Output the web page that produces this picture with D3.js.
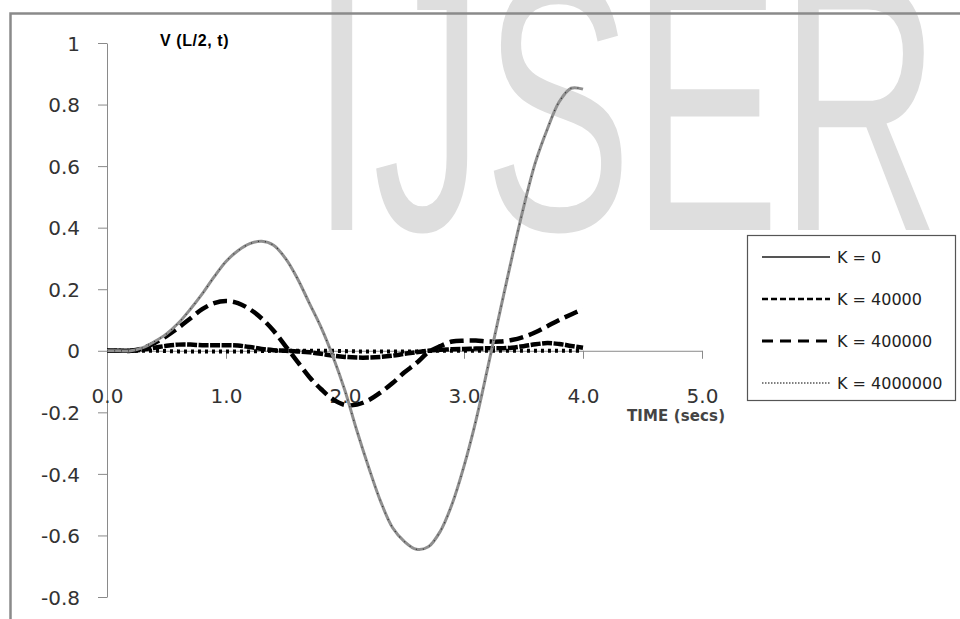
<!DOCTYPE html>
<html>
<head>
<meta charset="utf-8">
<script src="https://cdn.jsdelivr.net/npm/d3@7"></script>
<style>
  body { margin: 0; background: #fff; }
  svg { display: block; }
</style>
</head>
<body>
<div class="chart"></div>
<script>
// time (secs), one point each 0.1 s
const times = d3.range(0, 41).map(i => +(i / 10).toFixed(1))

// V(L/2, t)
const k0 = [0, 0, 0, 0.01, 0.03, 0.055, 0.09, 0.135, 0.185, 0.24,
  0.29, 0.325, 0.348, 0.356, 0.343, 0.30, 0.235, 0.155, 0.075, -0.02,
  -0.13, -0.26, -0.38, -0.49, -0.575, -0.62, -0.645, -0.637, -0.587, -0.498,
  -0.375, -0.227, -0.054, 0.123, 0.298, 0.465, 0.612, 0.72, 0.809, 0.853, 0.85]
const k40000 = [0, 0, 0, 0.004, 0.01, 0.016, 0.02, 0.02, 0.018, 0.018,
  0.018, 0.017, 0.012, 0.006, 0.002, 0, -0.002, -0.005, -0.01, -0.016,
  -0.02, -0.022, -0.022, -0.02, -0.016, -0.01, -0.005, 0, 0.003, 0.005,
  0.006, 0.007, 0.008, 0.008, 0.01, 0.015, 0.021, 0.025, 0.022, 0.016, 0.01]
const k400000 = [0, 0, 0, 0.008, 0.025, 0.048, 0.075, 0.105, 0.135, 0.155,
  0.162, 0.155, 0.135, 0.105, 0.065, 0.015, -0.035, -0.085, -0.125, -0.158,
  -0.176, -0.175, -0.16, -0.135, -0.105, -0.07, -0.04, -0.005, 0.015, 0.03,
  0.033, 0.033, 0.03, 0.03, 0.035, 0.045, 0.06, 0.08, 0.1, 0.118, 0.135]
const k4000000 = [0, 0, 0, 0, 0, -0.001, -0.002, -0.002, -0.002, -0.002,
  -0.002, -0.002, -0.002, -0.001, 0, 0, 0, 0, 0, 0,
  -0.001, -0.002, -0.002, -0.002, -0.002, -0.002, -0.002, -0.001, 0, 0,
  0, 0, 0, 0, 0, 0, 0, 0, 0, 0, 0]

const seriesNames = ["K = 0", "K = 40000", "K = 400000", "K = 4000000"]
const xTicks = [0, 1, 2, 3, 4, 5]
const xTickLabels = ["0.0", "1.0", "2.0", "3.0", "4.0", "5.0"]
const yTicks = [-0.8, -0.6, -0.4, -0.2, 0, 0.2, 0.4, 0.6, 0.8, 1]
const yTickLabels = ["-0.8", "-0.6", "-0.4", "-0.2", "0", "0.2", "0.4", "0.6", "0.8", "1"]

const width = 960, height = 619

const svg = d3.select('.chart').append('svg')
  .attr('width', width)
  .attr('height', height)

// watermark behind everything
svg.append('text')
  .attr('transform', 'translate(311, 230) scale(1.0, 1.62)')
  .attr('font-family', 'Liberation Sans, Arial, sans-serif')
  .attr('font-size', 222)
  .attr('fill', '#dedede')
  .text('IJSER')

const x = d3.scaleLinear().domain([0, 5]).range([107, 702])
const y = d3.scaleLinear().domain([-0.8, 1]).range([597, 43])

// y axis
const yAxis = svg.append('g')
  .attr('transform', `translate(${x(0)},0)`)
  .call(d3.axisLeft(y).tickValues(yTicks).tickSize(9).tickSizeOuter(0)
    .tickPadding(18).tickFormat((d, i) => yTickLabels[i]))
yAxis.selectAll('path, line').attr('stroke', '#8a8a8a')
yAxis.selectAll('text')
  .attr('font-family', 'DejaVu Sans, sans-serif')
  .attr('font-size', 20)
  .attr('fill', '#333')
  .attr('dy', '0.36em')

// x axis
const xAxis = svg.append('g')
  .attr('transform', `translate(0,${y(0)})`)
  .call(d3.axisBottom(x).tickValues(xTicks).tickSize(8).tickSizeOuter(0)
    .tickPadding(42).tickFormat((d, i) => xTickLabels[i]))
xAxis.selectAll('path, line').attr('stroke', '#8a8a8a')
xAxis.selectAll('text')
  .attr('font-family', 'DejaVu Sans, sans-serif')
  .attr('font-size', 20)
  .attr('fill', '#333')
  .attr('dy', '0.1em')

svg.append('text')
  .attr('x', 627).attr('y', 421)
  .attr('textLength', 98)
  .attr('font-family', 'DejaVu Sans, sans-serif')
  .attr('font-weight', 'bold')
  .attr('font-size', 15)
  .attr('fill', '#444')
  .text('TIME (secs)')

svg.append('text')
  .attr('x', 160).attr('y', 46)
  .attr('font-family', 'Liberation Sans, Arial, sans-serif')
  .attr('font-weight', 'bold')
  .attr('font-size', 16)
  .attr('letter-spacing', 0.6)
  .attr('fill', '#000')
  .text('V (L/2, t)')

// lines
const line = d3.line()
  .x((d, i) => x(times[i]))
  .y(d => y(d))
  .curve(d3.curveCatmullRom)

const plot = svg.append('g').attr('fill', 'none').attr('stroke-linecap', 'butt')

plot.append('path').datum(k4000000)
  .attr('d', line)
  .attr('stroke', '#000')
  .attr('stroke-width', 4)
  .attr('stroke-dasharray', '3,4')

plot.append('path').datum(k40000)
  .attr('d', line)
  .attr('stroke', '#000')
  .attr('stroke-width', 4.5)
  .attr('stroke-dasharray', '10,1.5')

plot.append('path').datum(k400000)
  .attr('d', line)
  .attr('stroke', '#000')
  .attr('stroke-width', 4.5)
  .attr('stroke-dasharray', '14,6')

plot.append('path').datum(k0)
  .attr('d', line)
  .attr('stroke', '#8f8f8f')
  .attr('stroke-width', 3)
plot.append('path').datum(k0)
  .attr('d', line)
  .attr('stroke', '#333')
  .attr('stroke-width', 1.2)
  .attr('stroke-dasharray', '1,6')

// legend
const legendStyles = [
  { stroke: '#555', width: 2, dash: null },
  { stroke: '#000', width: 2.5, dash: '6,3' },
  { stroke: '#000', width: 3, dash: '11,7' },
  { stroke: '#000', width: 1.2, dash: '1.5,1.5' }
]
const legend = svg.append('g')
legend.append('rect')
  .attr('x', 747.5).attr('y', 235.5)
  .attr('width', 208).attr('height', 165)
  .attr('fill', '#fff')
  .attr('stroke', '#555')
  .attr('stroke-width', 1.2)

const rows = legend.selectAll('g.row')
  .data(seriesNames)
  .join('g')
  .attr('class', 'row')
  .attr('transform', (d, i) => `translate(0,${257 + i * 42})`)
rows.append('line')
  .attr('x1', 762).attr('x2', 830)
  .attr('stroke', (d, i) => legendStyles[i].stroke)
  .attr('stroke-width', (d, i) => legendStyles[i].width)
  .attr('stroke-dasharray', (d, i) => legendStyles[i].dash)
rows.append('text')
  .attr('x', 837).attr('dy', '0.36em')
  .attr('font-family', 'DejaVu Sans, sans-serif')
  .attr('font-size', 16)
  .attr('fill', '#222')
  .text(d => d)

// outer frame (top and left edges visible)
svg.append('path')
  .attr('d', 'M10.5,619 V13.5 H960')
  .attr('fill', 'none')
  .attr('stroke', '#8a8a8a')
  .attr('stroke-width', 2.5)
</script>
</body>
</html>
